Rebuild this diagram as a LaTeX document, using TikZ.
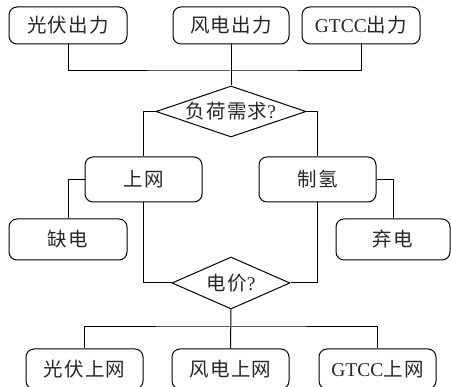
\documentclass[tikz,border=0pt]{standalone}
\usepackage{fontspec}
\setmainfont{Liberation Serif}
\newfontfamily\cjk{Noto Sans CJK SC}[LetterSpace=6]
\usetikzlibrary{shapes.geometric}
\begin{document}
\begin{tikzpicture}[x=1pt,y=-1pt,
  box/.style={draw,rounded corners=8pt,line width=1pt,inner sep=0pt,text=black!85,font=\fontsize{19.5}{19.5}\selectfont},
  dia/.style={draw,diamond,line width=1pt,inner sep=0pt,aspect=3},
  lbl/.style={text=black!85,font=\fontsize{19.5}{19.5}\selectfont},
  conn/.style={line width=1pt}]
\useasboundingbox (0,0) rectangle (451,387);
\node[box,minimum width=118pt,minimum height=37pt] (t1) at (68,25.5) {\cjk 光伏出力};
\node[box,minimum width=116pt,minimum height=37pt] (t2) at (231,25.5) {\cjk 风电出力};
\node[box,minimum width=118pt,minimum height=37pt] (t3) at (361,25.5) {GTCC{\cjk 出力}};
\node[dia,minimum width=150pt,minimum height=51pt] (d1) at (231,111.5) {};
\node[lbl] (d1t) at (d1.center) {{\cjk 负荷需求}?};
\node[box,minimum width=117pt,minimum height=45pt] (m1) at (143.5,179.5) {\cjk 上网};
\node[box,minimum width=117pt,minimum height=45pt] (m2) at (317.5,179.5) {\cjk 制氢};
\node[box,minimum width=118pt,minimum height=41pt] (l1) at (68,239.5) {\cjk 缺电};
\node[box,minimum width=114pt,minimum height=41pt] (r1) at (393,239.5) {\cjk 弃电};
\node[dia,minimum width=118pt,minimum height=52pt] (d2) at (231,283) {};
\node[lbl] (d2t) at (d2.center) {{\cjk 电价}?};
\node[box,minimum width=117pt,minimum height=40pt] (b1) at (84.5,369) {\cjk 光伏上网};
\node[box,minimum width=117pt,minimum height=40pt] (b2) at (230.5,369) {\cjk 风电上网};
\node[box,minimum width=117pt,minimum height=40pt] (b3) at (377.5,369) {GTCC{\cjk 上网}};
\coordinate (j1) at (231,71);
\coordinate (j2) at (231,327);
% top merge
\draw[conn] (t1.south) |- (j1) -| (t3.south);
\draw[conn] (t2.south) -- (d1.north);
% diamond 1 branches
\draw[conn] (d1.west) -| (m1.north);
\draw[conn] (d1.east) -| (m2.north);
\draw[conn] (m1.west) -| (l1.north);
\draw[conn] (m2.east) -| (r1.north);
% to diamond 2
\draw[conn] (m1.south) |- (d2.west);
\draw[conn] (m2.south) |- (d2.east);
% bottom split
\draw[conn] (d2.south) -- (b2.north);
\draw[conn] (b1.north) |- (j2) -| (b3.north);
\end{tikzpicture}
\end{document}
